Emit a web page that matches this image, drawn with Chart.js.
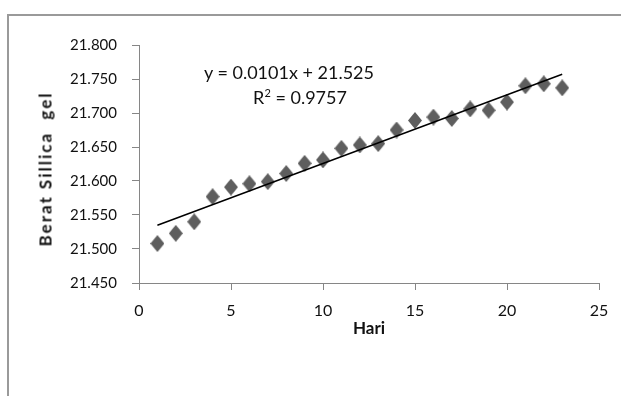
<!DOCTYPE html>
<html>
<head>
<meta charset="utf-8">
<script src="https://cdn.jsdelivr.net/npm/chart.js@4/dist/chart.umd.min.js"></script>
<style>
  html, body { margin: 0; padding: 0; background: #fff; }
  #wrap { position: relative; width: 621px; height: 396px; overflow: hidden; }
  #frame {
    position: absolute; left: 7px; top: 14px; width: 700px; height: 500px;
    border-top: 2px solid #9a9a9a; border-left: 2px solid #9a9a9a;
  }
  #chart { position: absolute; left: 0; top: 0; }
  .eq {
    position: absolute; white-space: nowrap; transform: translateX(-50%);
    font-family: Lato, sans-serif; font-size: 18px; line-height: 22px; color: #111;
  }
  .eq sup { font-size: 11px; vertical-align: 7px; line-height: 0; }
  #ytitle {
    position: absolute; left: 45px; top: 169px; white-space: pre;
    transform: translate(-50%, -50%) rotate(-90deg);
    font-family: Lato, sans-serif; font-weight: bold; font-size: 17px;
    letter-spacing: 2px; color: #111;
  }
</style>
</head>
<body>
<div id="wrap">
  <div id="frame"></div>
  <canvas id="chart" width="621" height="396"></canvas>
  <div class="eq" style="left: 289px; top: 61px;">y = 0.0101x + 21.525</div>
  <div class="eq" style="left: 300px; top: 86px;">R<sup>2</sup> = 0.9757</div>
  <div id="ytitle">Berat Sillica  gel</div>
</div>
<script>
  const hari = [1, 2, 3, 4, 5, 6, 7, 8, 9, 10, 11, 12, 13, 14, 15, 16, 17, 18, 19, 20, 21, 22, 23];
  const berat = [21.508, 21.523, 21.540, 21.577, 21.591, 21.596, 21.599, 21.611, 21.626, 21.631,
    21.648, 21.653, 21.655, 21.675, 21.689, 21.694, 21.692, 21.706, 21.704, 21.716,
    21.740, 21.743, 21.737];
  // trendline y = 0.0101x + 21.525, drawn from day 1 to day 23
  const trendX = [1, 23];
  const trendY = [21.535, 21.757];
  const xTicks = [0, 5, 10, 15, 20, 25];
  const yTicks = [21.45, 21.5, 21.55, 21.6, 21.65, 21.7, 21.75, 21.8];

  const fontFamily = "Lato, sans-serif";
  const axisColor = "#868686";

  // diamond marker, a bit taller than wide like the original
  const marker = document.createElement("canvas");
  marker.width = 14;
  marker.height = 17;
  const mctx = marker.getContext("2d");
  mctx.fillStyle = "#5e5e5e";
  mctx.beginPath();
  mctx.moveTo(7, 0);
  mctx.lineTo(14, 8.5);
  mctx.lineTo(7, 17);
  mctx.lineTo(0, 8.5);
  mctx.closePath();
  mctx.fill();

  const ctx = document.getElementById("chart").getContext("2d");
  new Chart(ctx, {
    type: "scatter",
    data: {
      datasets: [
        {
          label: "Berat",
          data: hari.map((d, i) => ({ x: d, y: berat[i] })),
          pointStyle: marker,
          pointRadius: 7,
          order: 2,
        },
        {
          label: "Trend",
          type: "line",
          data: trendX.map((d, i) => ({ x: d, y: trendY[i] })),
          borderColor: "#000",
          borderWidth: 1.5,
          pointRadius: 0,
          showLine: true,
          order: 1,
        },
      ],
    },
    options: {
      responsive: false,
      animation: false,
      events: [],
      layout: { padding: { left: 37, right: 22, top: 45, bottom: 57 } },
      plugins: { legend: { display: false }, tooltip: { enabled: false } },
      scales: {
        x: {
          type: "linear",
          min: 0,
          max: 25,
          afterBuildTicks: (scale) => {
            scale.ticks = xTicks.map((v) => ({ value: v }));
          },
          afterFit: (scale) => {
            scale.height = 56;
          },
          grid: { drawOnChartArea: false, drawTicks: true, tickLength: 7, color: axisColor },
          border: { color: axisColor, width: 1 },
          ticks: {
            color: "#111",
            padding: 11,
            maxRotation: 0,
            font: { family: fontFamily, size: 16 },
          },
          title: {
            display: true,
            text: "Hari",
            color: "#111",
            padding: 0,
            font: { family: fontFamily, size: 17, weight: "bold" },
          },
        },
        y: {
          type: "linear",
          min: 21.45,
          max: 21.8,
          afterBuildTicks: (scale) => {
            scale.ticks = yTicks.map((v) => ({ value: v }));
          },
          afterFit: (scale) => {
            scale.width = 102;
          },
          grid: { drawOnChartArea: false, drawTicks: true, tickLength: 7, color: axisColor },
          border: { color: axisColor, width: 1 },
          ticks: {
            color: "#111",
            padding: 15,
            font: { family: fontFamily, size: 15 },
            callback: (v) => Number(v).toFixed(3),
          },
          title: { display: false },
        },
      },
    },
  });
</script>
</body>
</html>
